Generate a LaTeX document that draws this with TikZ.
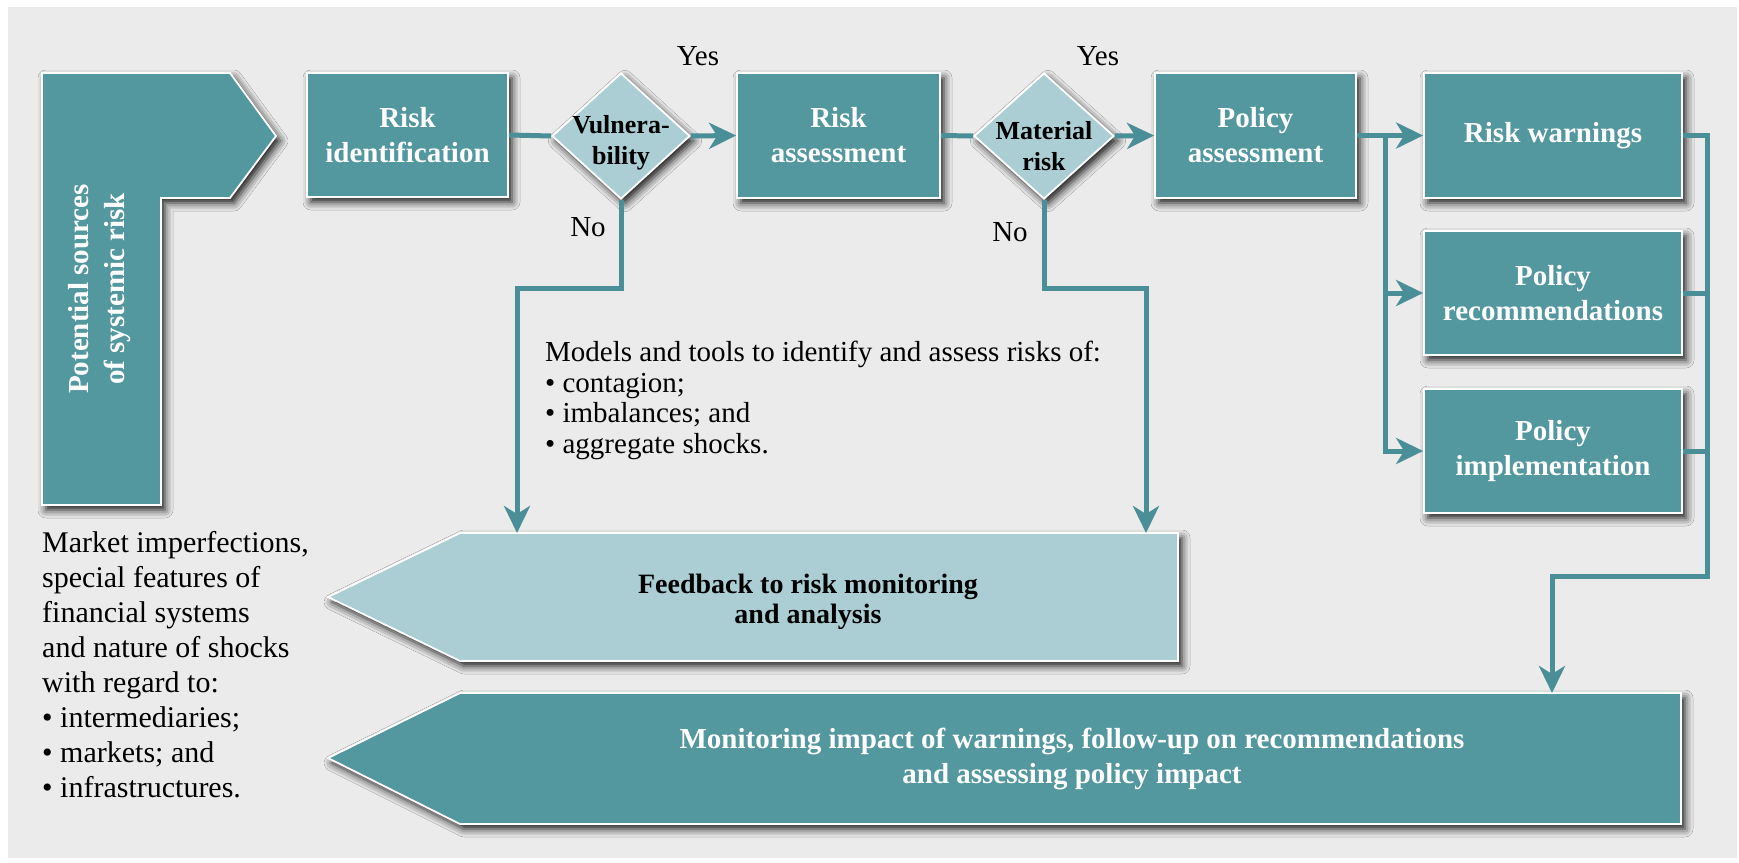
\documentclass[tikz,border=0pt]{standalone}
\usepackage{fontspec}
\setmainfont{Liberation Serif}
\usetikzlibrary{shapes.geometric,arrows.meta,shadows.blur}

\definecolor{panelgray}{RGB}{235,235,235}
\definecolor{boxteal}{RGB}{83,151,159}
\definecolor{paleteal}{RGB}{170,206,211}
\definecolor{linkteal}{RGB}{74,143,152}

\tikzset{
  softshadow/.style={blur shadow={shadow xshift=4pt, shadow yshift=-5pt,
      shadow blur radius=8pt, shadow opacity=90}},
  tealbox/.style={rectangle, fill=boxteal, draw=white, line width=1.8pt,
      softshadow, text=white, align=center, inner sep=0pt,
      font=\bfseries\fontsize{29}{35}\selectfont},
  decision/.style={diamond, fill=paleteal, draw=white, line width=1.8pt,
      softshadow, inner sep=0pt},
  decisiontext/.style={align=center, text=black, inner sep=0pt,
      font=\bfseries\fontsize{26}{31}\selectfont},
  bigshape/.style={draw=white, line width=1.8pt, softshadow},
  answer/.style={font=\fontsize{29}{35}\selectfont, inner sep=0pt},
  plaintext/.style={align=left, anchor=north west, inner sep=0pt},
  link/.style={draw=linkteal, line width=5pt},
  conn/.style={link, -{Stealth[length=27pt, width=26pt, inset=8pt]}},
}

\begin{document}
\begin{tikzpicture}[x=1pt, y=-1pt]
  \useasboundingbox (0,0) rectangle (1739,862);
  \fill[panelgray] (8,7) rectangle (1737,858);

  % L-shaped source block
  \path[bigshape, fill=boxteal]
    (42,73) -- (230,73) -- (276,136) -- (230,198) -- (161,198)
    -- (161,505) -- (42,505) -- cycle;
  \node[rotate=90, text=white, align=center, inner sep=0pt,
        font=\bfseries\fontsize{29}{36}\selectfont] (src) at (100,289)
    {Potential sources\\of systemic risk};

  % main process chain
  \node[tealbox, minimum width=201pt, minimum height=124pt] (ri) at (407.5,135) {Risk\\identification};
  \node[decision, minimum width=138pt, minimum height=126pt] (vul) at (621,136) {};
  \node[decisiontext] (vultxt) at (621,143) {Vulnera-\\bility};
  \node[tealbox, minimum width=203pt, minimum height=125pt] (ra) at (838.5,135.5) {Risk\\assessment};
  \node[decision, minimum width=140pt, minimum height=126pt] (mat) at (1044,136) {};
  \node[decisiontext] (mattxt) at (1044,146) {Material\\risk};
  \node[tealbox, minimum width=201pt, minimum height=125pt] (pa) at (1255.5,135.5) {Policy\\assessment};

  % policy outputs
  \node[tealbox, minimum width=258pt, minimum height=125pt] (rw) at (1553,135.5) {Risk warnings};
  \node[tealbox, minimum width=258pt, minimum height=124pt] (pr) at (1553,293) {Policy\\recommendations};
  \node[tealbox, minimum width=258pt, minimum height=124pt] (pi) at (1553,451) {Policy\\implementation};

  % feedback and monitoring panels
  \path[bigshape, fill=paleteal]
    (328,597) -- (460,533) -- (1178,533) -- (1178,661) -- (460,661) -- cycle;
  \node[align=center, inner sep=0pt, font=\bfseries\fontsize{28}{30}\selectfont] (fb) at (808,602)
    {Feedback to risk monitoring\\and analysis};
  \path[bigshape, fill=boxteal]
    (328,758) -- (460,693) -- (1681,693) -- (1681,824) -- (460,824) -- cycle;
  \node[align=center, inner sep=0pt, text=white, font=\bfseries\fontsize{29}{35}\selectfont] (mon) at (1072,759)
    {Monitoring impact of warnings, follow-up on recommendations\\and assessing policy impact};

  % free texts
  \node[plaintext, font=\fontsize{29}{30.5}\selectfont] (models) at (545,341)
    {Models and tools to identify and assess risks of:\\
     \textbullet\ contagion;\\
     \textbullet\ imbalances; and\\
     \textbullet\ aggregate shocks.};
  \node[plaintext, font=\fontsize{30}{35}\selectfont] (market) at (42,531)
    {Market imperfections,\\
     special features of\\
     financial systems\\
     and nature of shocks\\
     with regard to:\\
     \textbullet\ intermediaries;\\
     \textbullet\ markets; and\\
     \textbullet\ infrastructures.};

  \node[answer] (yes1) at (698,56) {Yes};
  \node[answer] (yes2) at (1098,56) {Yes};
  \node[answer] (no1) at (588,227) {No};
  \node[answer] (no2) at (1010,232) {No};

  % routing points
  \coordinate (vulturn) at (517,288);
  \coordinate (fbin1) at (517,533);
  \coordinate (matturn) at (1146,288);
  \coordinate (fbin2) at (1146,533);
  \coordinate (split) at (1385,135.5);
  \coordinate (railturn) at (1707,576);
  \coordinate (monin) at (1552,693);

  % connectors
  \draw[link] (ri.east) -- (vul.west);
  \draw[conn] (vul.east) -- (ra.west);
  \draw[link] (ra.east) -- (mat.west);
  \draw[conn] (mat.east) -- (pa.west);

  \draw[conn] (pa.east) -- (rw.west);
  \draw[conn] (split) |- (pi.west);
  \draw[conn] (split |- pr.west) -- (pr.west);

  \draw[conn] (rw.east) -| (railturn) -| (monin);
  \draw[link] (pr.east) -- (pr.east -| railturn);
  \draw[link] (pi.east) -- (pi.east -| railturn);

  \draw[conn] (vul.south) |- (vulturn) -- (fbin1);
  \draw[conn] (mat.south) |- (matturn) -- (fbin2);
\end{tikzpicture}
\end{document}
